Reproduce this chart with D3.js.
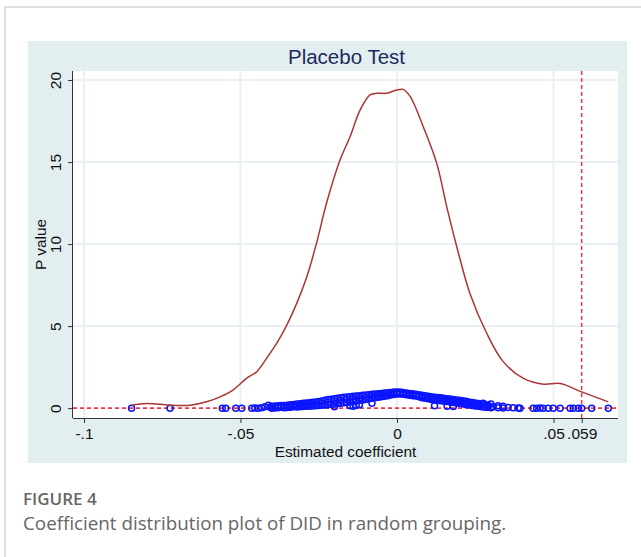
<!DOCTYPE html>
<html lang="en">
<head>
<meta charset="utf-8" />
<title>Placebo Test</title>
<script src="https://d3js.org/d3.v7.min.js"></script>
<style>
  body { margin: 0; background: #fff; }
  svg text { font-family: "Liberation Sans", Arial, sans-serif; }
</style>
</head>
<body>
<script>
// kernel density of the placebo coefficients
var densX = [-0.0847, -0.0800, -0.0725, -0.0661, -0.0608, -0.0565, -0.0524, -0.0480, -0.0448, -0.0416,
             -0.0384, -0.0352, -0.0320, -0.0288, -0.0257, -0.0225, -0.0182, -0.0150, -0.0118, -0.0086,
             -0.0065, -0.0033, -0.0001, 0.0020, 0.0042, 0.0084, 0.0127, 0.0159, 0.0191, 0.0233,
             0.0287, 0.0340, 0.0404, 0.0468, 0.0521, 0.0590, 0.0675];
var densY = [0.18, 0.29, 0.18, 0.18, 0.39, 0.69, 1.10, 1.83, 2.22, 3.05,
             3.96, 5.06, 6.40, 8.01, 10.06, 12.50, 15.12, 16.54, 18.17, 19.09,
             19.19, 19.19, 19.39, 19.43, 19.00, 17.15, 14.92, 12.27, 9.84, 6.99,
             4.55, 2.82, 1.81, 1.46, 1.50, 0.99, 0.38];

// simulated estimates: [coefficient, p value]
var simPoints = [
  [-0.0848,0], [-0.0725,0], [-0.0558,0], [-0.0547,0], [-0.0515,0], [-0.0496,0], [-0.0464,0],
  [-0.0454,0.01], [-0.0443,0], [-0.0432,0.02], [-0.0422,0.08], [-0.0411,0.18], [-0.0405,0.05],
  [-0.040,0.12], [-0.040,0.0], [-0.039,0.13], [-0.039,0.01], [-0.038,0.15], [-0.038,0.02],
  [-0.037,0.16], [-0.037,0.06], [-0.036,0.16], [-0.036,0.03], [-0.035,0.18], [-0.035,0.04],
  [-0.034,0.20], [-0.034,0.12], [-0.034,0.05], [-0.033,0.22], [-0.033,0.08], [-0.032,0.25],
  [-0.032,0.15], [-0.032,0.07], [-0.031,0.27], [-0.031,0.09], [-0.030,0.30], [-0.030,0.20],
  [-0.030,0.10], [-0.029,0.31], [-0.029,0.12], [-0.028,0.33], [-0.028,0.22], [-0.028,0.11],
  [-0.027,0.36], [-0.027,0.13], [-0.026,0.38], [-0.026,0.26], [-0.026,0.14], [-0.025,0.41],
  [-0.025,0.16], [-0.024,0.44], [-0.024,0.30], [-0.024,0.17], [-0.023,0.48], [-0.023,0.19],
  [-0.022,0.52], [-0.022,0.36], [-0.022,0.21], [-0.021,0.55], [-0.021,0.24], [-0.020,0.58],
  [-0.020,0.42], [-0.020,0.26], [-0.020,0.08], [-0.019,0.60], [-0.019,0.28], [-0.018,0.63],
  [-0.018,0.46], [-0.018,0.30], [-0.017,0.66], [-0.017,0.33], [-0.016,0.68], [-0.016,0.52],
  [-0.016,0.35], [-0.015,0.70], [-0.015,0.38], [-0.015,0.15], [-0.014,0.72], [-0.014,0.57],
  [-0.014,0.42], [-0.014,0.12], [-0.013,0.74], [-0.013,0.45], [-0.013,0.16], [-0.012,0.76],
  [-0.012,0.62], [-0.012,0.48], [-0.012,0.20], [-0.011,0.78], [-0.011,0.50], [-0.010,0.80],
  [-0.010,0.66], [-0.010,0.53], [-0.009,0.82], [-0.009,0.57], [-0.008,0.84], [-0.008,0.72],
  [-0.008,0.60], [-0.008,0.30], [-0.007,0.86], [-0.007,0.63], [-0.006,0.88], [-0.006,0.77],
  [-0.006,0.66], [-0.005,0.90], [-0.005,0.70], [-0.004,0.92], [-0.004,0.82], [-0.004,0.72],
  [-0.003,0.94], [-0.003,0.76], [-0.002,0.96], [-0.002,0.88], [-0.002,0.80], [-0.001,0.98],
  [-0.001,0.83], [0.000,0.99], [0.000,0.92], [0.000,0.86], [0.001,0.98], [0.001,0.86],
  [0.002,0.96], [0.002,0.90], [0.002,0.84], [0.003,0.93], [0.003,0.81], [0.004,0.90],
  [0.004,0.84], [0.004,0.78], [0.005,0.88], [0.005,0.76], [0.006,0.85], [0.006,0.80],
  [0.006,0.74], [0.007,0.81], [0.007,0.69], [0.008,0.78], [0.008,0.71], [0.008,0.64],
  [0.009,0.75], [0.009,0.60], [0.010,0.72], [0.010,0.64], [0.010,0.57], [0.011,0.70],
  [0.011,0.53], [0.012,0.67], [0.012,0.58], [0.012,0.50], [0.012,0.15], [0.013,0.65],
  [0.013,0.48], [0.014,0.63], [0.014,0.54], [0.014,0.45], [0.015,0.60], [0.015,0.42],
  [0.016,0.58], [0.016,0.49], [0.016,0.40], [0.016,0.12], [0.017,0.56], [0.017,0.37],
  [0.018,0.53], [0.018,0.43], [0.018,0.34], [0.018,0.10], [0.019,0.50], [0.019,0.31],
  [0.020,0.48], [0.020,0.38], [0.020,0.29], [0.021,0.45], [0.021,0.25], [0.022,0.42],
  [0.022,0.32], [0.022,0.22], [0.023,0.38], [0.023,0.19], [0.024,0.34], [0.024,0.25],
  [0.024,0.16], [0.025,0.31], [0.025,0.13], [0.026,0.28], [0.026,0.19], [0.026,0.11],
  [0.027,0.25], [0.027,0.08], [0.0275,0.30], [0.028,0.22], [0.028,0.06], [0.029,0.18],
  [0.029,0.05], [0.0291,0.15], [0.030,0.25], [0.030,0.03], [0.0307,0.08], [0.0323,0.15],
  [0.0323,0.02], [0.0339,0.12], [0.0339,0.01], [0.0355,0.04], [0.0371,0.02], [0.0387,0.01],
  [0.0393,0], [0.0435,0], [0.0446,0], [0.0457,0.01], [0.0467,0], [0.0483,0], [0.0499,0],
  [0.0521,0], [0.0553,0], [0.0563,0], [0.0579,0], [0.0590,0], [0.0622,0], [0.0675,0]
];

var xTicks = [-0.1, -0.05, 0, 0.05, 0.059];
var xGrid = [-0.1, -0.05, 0, 0.05];
var yTicks = [0, 5, 10, 15, 20];
var trueCoef = 0.059;

var width = 641, height = 557;
var svg = d3.select("body").append("svg")
    .attr("width", width)
    .attr("height", height);

// card border
svg.append("path")
    .attr("d", "M5,557 V7 H641")
    .attr("fill", "none")
    .attr("stroke", "#d6d6d6")
    .attr("stroke-width", 1.5);

// graph region
svg.append("rect")
    .attr("x", 28).attr("y", 41)
    .attr("width", 599).attr("height", 422)
    .attr("fill", "#e3eef1");

var pl = 73, pr = 618, pt = 71, pb = 418;
svg.append("rect")
    .attr("x", pl).attr("y", pt)
    .attr("width", pr - pl).attr("height", pb - pt)
    .attr("fill", "#fff");

var x = d3.scaleLinear().domain([-0.1035, 0.0706]).range([pl, pr]);
var y = d3.scaleLinear().domain([-0.6, 20.55]).range([pb, pt]);

// grid
svg.append("g").selectAll("line")
    .data(xGrid).enter().append("line")
    .attr("x1", d => x(d)).attr("x2", d => x(d))
    .attr("y1", pt).attr("y2", pb)
    .attr("stroke", "#e8f0f3").attr("stroke-width", 2);
svg.append("g").selectAll("line")
    .data(yTicks.slice(1)).enter().append("line")
    .attr("x1", pl).attr("x2", pr)
    .attr("y1", d => y(d)).attr("y2", d => y(d))
    .attr("stroke", "#e8f0f3").attr("stroke-width", 2);

// reference lines
svg.append("line")
    .attr("x1", pl).attr("x2", pr)
    .attr("y1", y(0)).attr("y2", y(0))
    .attr("stroke", "#f5344a").attr("stroke-width", 1.7)
    .attr("stroke-dasharray", "4,3");
svg.append("line")
    .attr("x1", x(trueCoef)).attr("x2", x(trueCoef))
    .attr("y1", pt).attr("y2", pb)
    .attr("stroke", "#f5344a").attr("stroke-width", 1.5)
    .attr("stroke-dasharray", "4,3");

// scatter of estimates
svg.append("g").selectAll("circle")
    .data(simPoints).enter().append("circle")
    .attr("cx", d => x(d[0]))
    .attr("cy", d => y(d[1]))
    .attr("r", 3)
    .attr("fill", "none")
    .attr("stroke", "#0a14ff")
    .attr("stroke-width", 1.5);

// density curve
var line = d3.line()
    .x(d => x(d[0]))
    .y(d => y(d[1]))
    .curve(d3.curveCatmullRom);
svg.append("path")
    .datum(d3.zip(densX, densY))
    .attr("d", line)
    .attr("fill", "none")
    .attr("stroke", "#ad3434")
    .attr("stroke-width", 1.5);

// axes
var fmt = function (d) { return d === 0 ? "0" : String(d).replace("0.", "."); };

var xAxis = svg.append("g")
    .attr("transform", "translate(0," + pb + ")")
    .call(d3.axisBottom(x).tickValues(xTicks).tickFormat(fmt).tickSize(5).tickPadding(5).tickSizeOuter(0));
xAxis.select(".domain").attr("d", "M" + pl + ",0.5H" + pr).attr("stroke", "#333");
xAxis.selectAll(".tick line").attr("stroke", "#333");
xAxis.selectAll("text").attr("font-size", "15.5px").attr("fill", "#111")
    .attr("font-family", "'Liberation Sans', Arial, sans-serif");

var yAxis = svg.append("g")
    .attr("transform", "translate(" + pl + ",0)")
    .call(d3.axisLeft(y).tickValues(yTicks).tickSize(5).tickSizeOuter(0));
yAxis.select(".domain").attr("d", "M-0.5," + pt + "V" + pb).attr("stroke", "#333");
yAxis.selectAll(".tick line").attr("stroke", "#333");
yAxis.selectAll("text")
    .attr("x", null).attr("dy", null)
    .attr("text-anchor", "middle")
    .attr("transform", "translate(-12,0) rotate(-90)")
    .attr("font-size", "15.5px").attr("fill", "#111")
    .attr("font-family", "'Liberation Sans', Arial, sans-serif");

// titles
svg.append("text")
    .attr("x", (pl + pr) / 2 + 1).attr("y", 64)
    .attr("text-anchor", "middle")
    .attr("font-size", "20.5px")
    .attr("fill", "#1c2b5c")
    .text("Placebo Test");
svg.append("text")
    .attr("x", (pl + pr) / 2).attr("y", 457)
    .attr("text-anchor", "middle")
    .attr("font-size", "15.4px")
    .attr("fill", "#111")
    .text("Estimated coefficient");
svg.append("text")
    .attr("transform", "translate(45.5," + (pt + pb) / 2 + ") rotate(-90)")
    .attr("text-anchor", "middle")
    .attr("font-size", "15.4px")
    .attr("fill", "#111")
    .text("P value");

// caption
svg.append("text")
    .attr("x", 23).attr("y", 505)
    .style("font-family", "'Open Sans', 'Noto Sans', sans-serif")
    .style("font-weight", 600)
    .attr("font-size", "17px")
    .attr("fill", "#666")
    .text("FIGURE 4");
svg.append("text")
    .attr("x", 23).attr("y", 530)
    .style("font-family", "'Open Sans', 'Noto Sans', sans-serif")
    .attr("font-size", "18.8px")
    .attr("fill", "#666")
    .text("Coefficient distribution plot of DID in random grouping.");
</script>
</body>
</html>
